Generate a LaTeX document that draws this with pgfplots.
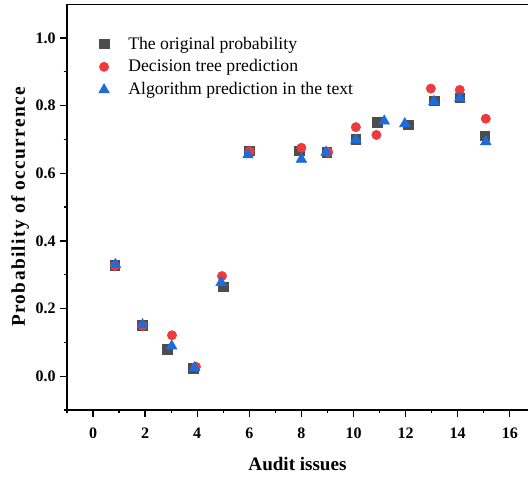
\documentclass[border=0pt]{standalone}
\usepackage{fontspec}
\setmainfont{Liberation Serif}
\usepackage{pgfplots}
\pgfplotsset{compat=1.18}
\usetikzlibrary{calc}
\definecolor{cOrig}{RGB}{77,77,77}
\definecolor{cTree}{RGB}{238,58,60}
\definecolor{cAlg}{RGB}{28,108,220}

\begin{document}
\begin{tikzpicture}
\begin{axis}[name=ax,
  scale only axis, width=345.75pt, height=304.5pt,
  xmin=-1, xmax=16.7, ymin=-0.1, ymax=1.1,
  axis x line*=bottom, axis y line*=left,
  axis line style={line width=1pt, -},
  tick align=outside, tick style={line width=1pt, black},
  major tick length=5pt, minor tick length=2.5pt,
  xtick={0,2,...,16}, minor xtick={-1,1,...,15},
  ytick={0,0.2,...,1.0}, minor ytick={-0.1,0.1,0.3,0.5,0.7,0.9},
  yticklabel style={/pgf/number format/.cd, fixed, fixed zerofill, precision=1},
  xticklabel style={yshift=-5pt},
  /pgf/number format/assume math mode=true,
  tick label style={font=\fontsize{12}{14}\selectfont\bfseries},
  xlabel={Audit issues}, ylabel={\addfontfeature{LetterSpace=7}Probability of occurrence},
  xlabel style={font=\fontsize{14.3}{16}\selectfont\bfseries, yshift=-7pt},
  ylabel style={font=\fontsize{14.5}{16}\selectfont\bfseries, yshift=-2pt},
  legend cell align=left,
  legend style={draw=none, fill=none, at={(0.059,0.933)}, anchor=north west,
    font=\fontsize{13.25}{16}\selectfont, row sep=2.5pt},
  legend image code/.code={\path (-4pt,0pt) (16pt,0pt); \draw[#1] plot coordinates {(0pt,0pt)};},
]
\draw[line width=1pt] (rel axis cs:0,1) -- (rel axis cs:1,1);
\addplot[only marks, mark=square*, mark size=3.6pt, color=cOrig] coordinates {
(0.84,0.328)(1.9,0.151)(2.85,0.079)(3.85,0.023)(5.0,0.264)(6.0,0.666)
(7.92,0.666)(8.97,0.662)(10.09,0.701)(10.92,0.750)(12.1,0.743)(13.09,0.814)
(14.08,0.823)(15.04,0.710)};
\addlegendentry{The original probability}
\addplot[only marks, mark=*, mark size=3.5pt, color=cTree] coordinates {
(0.84,0.326)(1.9,0.149)(3.03,0.121)(3.95,0.028)(4.95,0.296)(6.02,0.665)
(8.0,0.675)(9.03,0.662)(10.09,0.736)(10.88,0.713)(12.97,0.850)
(14.08,0.846)(15.08,0.761)};
\addlegendentry{Decision tree prediction}
\addplot[only marks, mark=triangle*, mark size=4.6pt, color=cAlg] coordinates {
(0.86,0.330)(1.9,0.152)(3.02,0.089)(3.9,0.025)(4.92,0.277)(5.95,0.654)
(8.0,0.641)(8.95,0.662)(10.09,0.698)(11.18,0.754)(11.97,0.746)(13.09,0.812)
(14.08,0.822)(15.08,0.693)};
\addlegendentry{Algorithm prediction in the text}
\end{axis}
\pgfresetboundingbox
\path ($(ax.south west)+(-50.25pt,-49.5pt)$) rectangle ($(ax.north east)+(0pt,3pt)$);
\end{tikzpicture}
\end{document}
